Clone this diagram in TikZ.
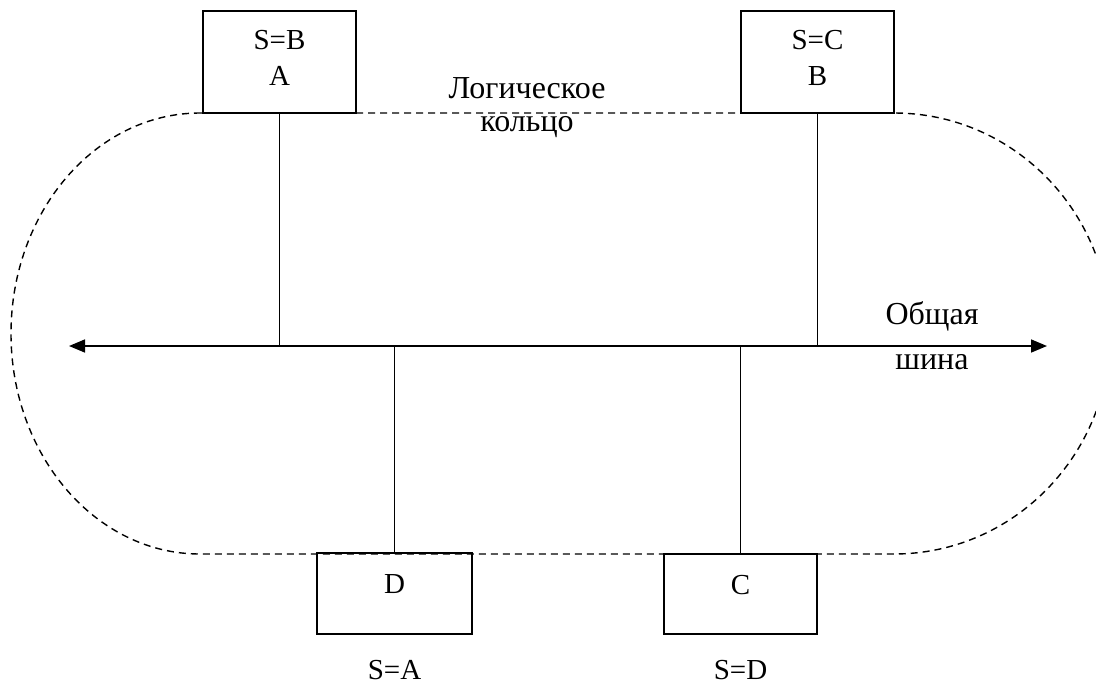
\documentclass[tikz,border=0pt]{standalone}
\usepackage{fontspec}
\setmainfont{Liberation Serif}
\usetikzlibrary{arrows.meta,positioning}
\tikzset{
  station/.style={draw,line width=1.6pt,minimum width=153pt,inner sep=0pt,align=center,font=\fontsize{29}{36}\selectfont},
  ring/.style={draw,line width=1.4pt,dash pattern=on 7pt off 5pt},
  bus/.style={{Triangle[length=16pt,width=13pt]}-{Triangle[length=16pt,width=13pt]},line width=1.6pt},
  stem/.style={line width=1.6pt},
  caption/.style={align=center,inner sep=0pt}
}

\begin{document}
\begin{tikzpicture}[x=1pt,y=-1pt]
    \useasboundingbox (0,0) rectangle (1096,686);

    % logical ring
    \draw[ring] (200,113) -- (894,113)
      arc[start angle=-90,end angle=90,x radius=216,y radius=220.5]
      -- (200,554)
      arc[start angle=90,end angle=270,x radius=189,y radius=220.5] -- cycle;

    % common bus
    \coordinate (busL) at (69,346);
    \coordinate (busR) at (1047,346);
    \draw[bus] (busL) -- (busR);

    \node[station,minimum height=102pt,text depth=8pt] (stA) at (279.5,62) {S=B\\A};
    \node[station,minimum height=102pt,text depth=8pt] (stB) at (817.5,62) {S=C\\B};
    \node[station,minimum width=155pt,minimum height=81pt,text height=20pt,text depth=20pt] (stD) at (394.5,593.5) {D};
    \node[station,minimum width=153pt,minimum height=80pt,text height=20pt,text depth=20pt] (stC) at (740.5,594) {C};

    \draw[stem] (stA.south) -- (stA.south |- busL);
    \draw[stem] (stB.south) -- (stB.south |- busL);
    \draw[stem] (stD.north |- busL) -- (stD.north);
    \draw[stem] (stC.north |- busL) -- (stC.north);

    \node[caption,font=\fontsize{32}{33}\selectfont] (ringlbl) at (527,108) {Логическое\\кольцо};
    \node[caption,font=\fontsize{32}{45}\selectfont] (buslbl) at (932,336) {Общая\\шина};
    \node[caption,font=\fontsize{29}{36}\selectfont,below=25pt of stD] (addrD) {S=A};
    \node[caption,font=\fontsize{29}{36}\selectfont,below=25pt of stC] (addrC) {S=D};
\end{tikzpicture}
\end{document}
